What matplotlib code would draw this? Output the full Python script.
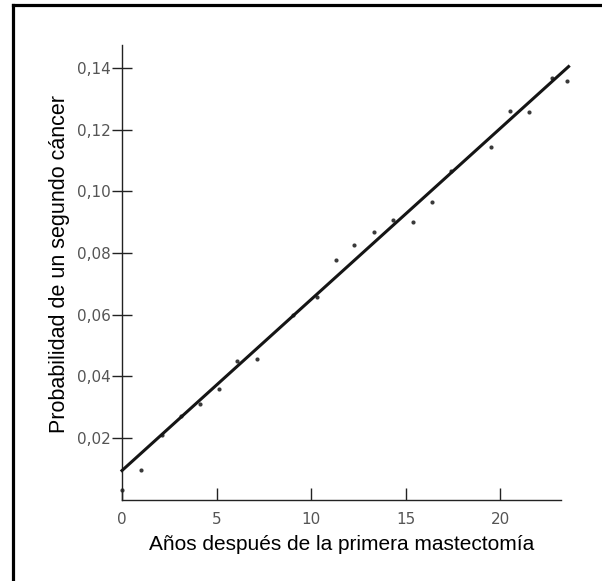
import numpy as np
import matplotlib; matplotlib.use("Agg")
import matplotlib.pyplot as plt
from matplotlib.lines import Line2D

# data
years = [0.0, 1.0, 2.1, 3.1, 4.1, 5.15, 6.1, 7.15, 9.05, 10.3, 11.3, 12.25,
         13.3, 14.3, 15.4, 16.4, 17.4, 19.5, 20.5, 21.5, 22.7, 23.5]
prob  = [0.003, 0.0095, 0.021, 0.027, 0.031, 0.036, 0.045, 0.0455, 0.060, 0.0656,
         0.0778, 0.0827, 0.0867, 0.0908, 0.0902, 0.0965, 0.1067, 0.1145, 0.126,
         0.1258, 0.1367, 0.1359]
fit_x = [0.0, 23.6]
fit_y = [0.0094, 0.1405]
xticks = [0, 5, 10, 15, 20]
yticks = [0.02, 0.04, 0.06, 0.08, 0.10, 0.12, 0.14]
ytick_labels = ["0,02", "0,04", "0,06", "0,08", "0,10", "0,12", "0,14"]

W, H = 602, 581
fig = plt.figure(figsize=(W/100, H/100), dpi=100)
ax = fig.add_axes([122/W, 1 - 499.5/H, (561-122)/W, (499.5-45)/H])

ax.plot(fit_x, fit_y, "-", color="#151515", lw=2.2, clip_on=False, zorder=3)
ax.scatter(years, prob, s=9, color="#3a3a3a", clip_on=False, zorder=2, lw=0)

ax.set_xlim(0, 23.2); ax.set_ylim(0, 0.1475)
for s in ("top", "right"): ax.spines[s].set_visible(False)
for s in ("left", "bottom"):
    ax.spines[s].set_linewidth(1.0); ax.spines[s].set_color("#222222")

ax.set_xticks(xticks); ax.set_xticklabels([str(t) for t in xticks])
ax.set_yticks(yticks); ax.set_yticklabels(ytick_labels)
ax.tick_params(axis="y", direction="inout", length=14, width=1.0, color="#222222",
               pad=1, labelsize=11, labelcolor="#555555")
ax.tick_params(axis="x", direction="in", length=9, width=1.0, color="#222222",
               pad=9, labelsize=11, labelcolor="#555555")

ax.set_xlabel("Años después de la primera mastectomía", fontsize=15,
              family="Liberation Sans", labelpad=6)
ax.set_ylabel("Probabilidad de un segundo cáncer", fontsize=15.5,
              family="Liberation Sans", labelpad=5, y=0.518)

# frame drawn around the scanned figure (top and left edges only)
fig.add_artist(Line2D([12.5/W, 1], [1 - 4.5/H]*2, color="black", lw=2.3, transform=fig.transFigure))
fig.add_artist(Line2D([12.5/W]*2, [0, 1 - 4.5/H], color="black", lw=2.3, transform=fig.transFigure))

fig.savefig("out.png", dpi=100)
